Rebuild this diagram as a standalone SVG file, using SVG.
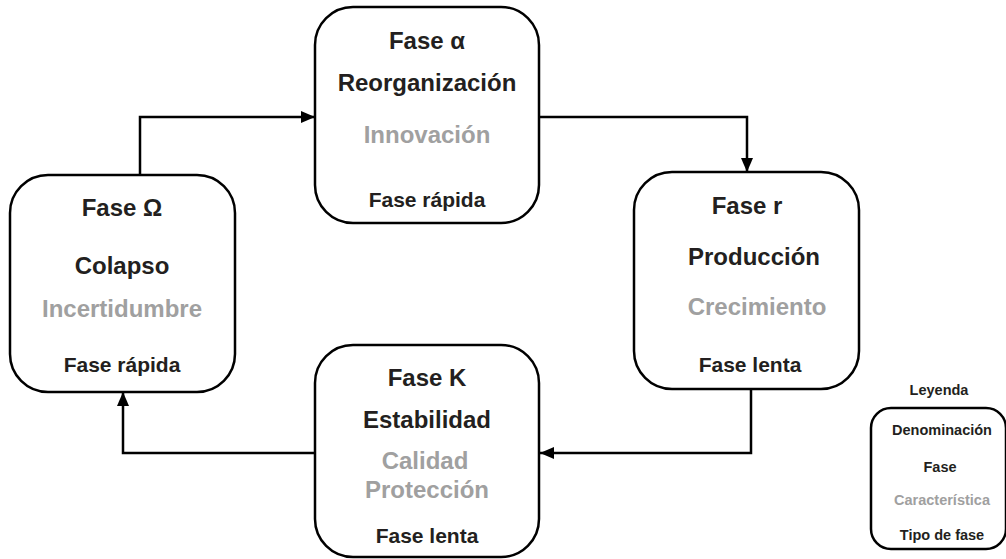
<svg xmlns="http://www.w3.org/2000/svg" width="1006" height="559" viewBox="0 0 1006 559">
<defs>
<marker id="ah" viewBox="0 0 14 12" refX="14" refY="6" markerWidth="14" markerHeight="12" markerUnits="userSpaceOnUse" orient="auto">
<path d="M0,0 L14,6 L0,12 Z" fill="#000"/>
</marker>
<style>
.box{fill:#fff;stroke:#000;stroke-width:2.5}
.t{font-family:"Liberation Sans",Arial,sans-serif;font-weight:bold;text-anchor:middle;fill:#231f20}
.g{fill:#a0a0a0}
.big{font-size:24px}
.mid{font-size:21px}
.leg{font-size:14.5px}
.c{fill:none;stroke:#000;stroke-width:2.5}
</style>
</defs>
<rect width="1006" height="559" fill="#fff"/>
<g id="connectors">
<path class="c" d="M140,175 V117 H315" marker-end="url(#ah)"/>
<path class="c" d="M539,117 H747 V172" marker-end="url(#ah)"/>
<path class="c" d="M751,389 V453 H540" marker-end="url(#ah)"/>
<path class="c" d="M315,453 H123 V392" marker-end="url(#ah)"/>
</g>
<g id="alpha">
<rect class="box" x="315" y="7" width="224" height="216" rx="38"/>
<text class="t big" x="427" y="49">Fase α</text>
<text class="t big" x="427" y="91">Reorganización</text>
<text class="t big g" x="427" y="143">Innovación</text>
<text class="t mid" x="427" y="207">Fase rápida</text>
</g>
<g id="omega">
<rect class="box" x="10" y="175" width="225" height="217" rx="38"/>
<text class="t big" x="122" y="216">Fase Ω</text>
<text class="t big" x="122" y="274">Colapso</text>
<text class="t big g" x="122" y="317">Incertidumbre</text>
<text class="t mid" x="122" y="372">Fase rápida</text>
</g>
<g id="r">
<rect class="box" x="634" y="172" width="225" height="217" rx="38"/>
<text class="t big" x="747" y="214">Fase r</text>
<text class="t big" x="754" y="265">Producción</text>
<text class="t big g" x="757" y="315">Crecimiento</text>
<text class="t mid" x="750" y="372">Fase lenta</text>
</g>
<g id="K">
<rect class="box" x="315" y="345" width="224" height="212" rx="38"/>
<text class="t big" x="427" y="386">Fase K</text>
<text class="t big" x="427" y="428">Estabilidad</text>
<text class="t big g" x="425" y="469">Calidad</text>
<text class="t big g" x="427" y="498">Protección</text>
<text class="t mid" x="427" y="543">Fase lenta</text>
</g>
<g id="legend">
<text class="t leg" x="939" y="395">Leyenda</text>
<rect class="box" x="871" y="408" width="135" height="141" rx="20"/>
<text class="t leg" x="942" y="435">Denominación</text>
<text class="t leg" x="940" y="472">Fase</text>
<text class="t leg g" x="942" y="505">Característica</text>
<text class="t leg" x="942" y="540">Tipo de fase</text>
</g>
</svg>
